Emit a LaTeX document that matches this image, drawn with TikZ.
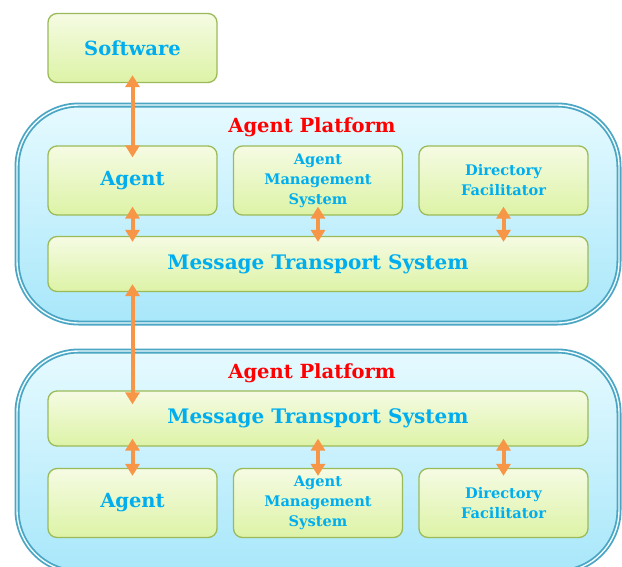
\documentclass[tikz,border=0pt]{standalone}
\usepackage{fontspec}
\setmainfont{DejaVu Serif}
\usetikzlibrary{arrows.meta}

\definecolor{boxline}{HTML}{9BBB59}
\definecolor{boxtop}{HTML}{F5FBE3}
\definecolor{boxbot}{HTML}{DDF3A6}
\definecolor{platline}{HTML}{4BA6C4}
\definecolor{plattop}{HTML}{E6FAFF}
\definecolor{platbot}{HTML}{A8E7FA}
\definecolor{labelblue}{HTML}{00AEEF}
\definecolor{arrorange}{HTML}{F79646}

\tikzset{
  unit/.style={draw=boxline, line width=1.3pt, rounded corners=9pt,
    top color=boxtop, bottom color=boxbot, text=labelblue, align=center,
    inner sep=0pt, minimum width=169pt, minimum height=69pt,
    font=\bfseries\fontsize{19.5}{22}\selectfont},
  smallunit/.style={unit, font=\bfseries\fontsize{14.6}{20}\selectfont},
  bus/.style={unit, minimum width=540pt, minimum height=55pt,
    font=\bfseries\fontsize{20}{22}\selectfont},
  platform/.style={draw=platline, double=plattop!60!white, double distance=1.4pt,
    line width=1.8pt, rounded corners=62pt, top color=plattop, bottom color=platbot},
  title/.style={text=red, font=\bfseries\fontsize{19.5}{22}\selectfont},
  link/.style={draw=arrorange, line width=4pt,
    {Triangle[width=14pt,length=12pt]}-{Triangle[width=14pt,length=12pt]}}
}

\begin{document}
\begin{tikzpicture}[x=1pt,y=-1pt]
  \useasboundingbox (0,0) rectangle (622,566);
  % platforms
  \draw[platform] (17,105) rectangle (619,323);
  \draw[platform] (17,351) rectangle (619,572);
  \node[title] (plat1) at (312,127) {Agent Platform};
  \node[title] (plat2) at (312,373) {Agent Platform};
  % upper platform
  \node[unit] (soft) at (132.5,48) {Software};
  \node[unit] (agent1) at (132.5,180.5) {Agent};
  \node[smallunit] (ams1) at (318,180.5) {Agent\\Management\\System};
  \node[smallunit] (df1) at (503.5,180.5) {Directory\\Facilitator};
  \node[bus] (mts1) at (318,264) {Message Transport System};
  % lower platform
  \node[bus] (mts2) at (318,418.5) {Message Transport System};
  \node[unit] (agent2) at (132.5,503) {Agent};
  \node[smallunit] (ams2) at (318,503) {Agent\\Management\\System};
  \node[smallunit] (df2) at (503.5,503) {Directory\\Facilitator};
  % links
  \draw[link] ([yshift=8pt]soft.south) -- ([yshift=-12pt]agent1.north);
  \draw[link] ([yshift=9pt]agent1.south) -- ([yshift=-6pt]mts1.north -| agent1.south);
  \draw[link] ([yshift=9pt]ams1.south) -- ([yshift=-6pt]mts1.north -| ams1.south);
  \draw[link] ([yshift=9pt]df1.south) -- ([yshift=-6pt]mts1.north -| df1.south);
  \draw[link] ([yshift=8pt]mts1.south -| agent1.south) -- ([yshift=-14pt]mts2.north -| agent1.south);
  \draw[link] ([yshift=8pt]mts2.south -| agent2.north) -- ([yshift=-8pt]agent2.north);
  \draw[link] ([yshift=8pt]mts2.south -| ams2.north) -- ([yshift=-8pt]ams2.north);
  \draw[link] ([yshift=8pt]mts2.south -| df2.north) -- ([yshift=-8pt]df2.north);
\end{tikzpicture}
\end{document}
